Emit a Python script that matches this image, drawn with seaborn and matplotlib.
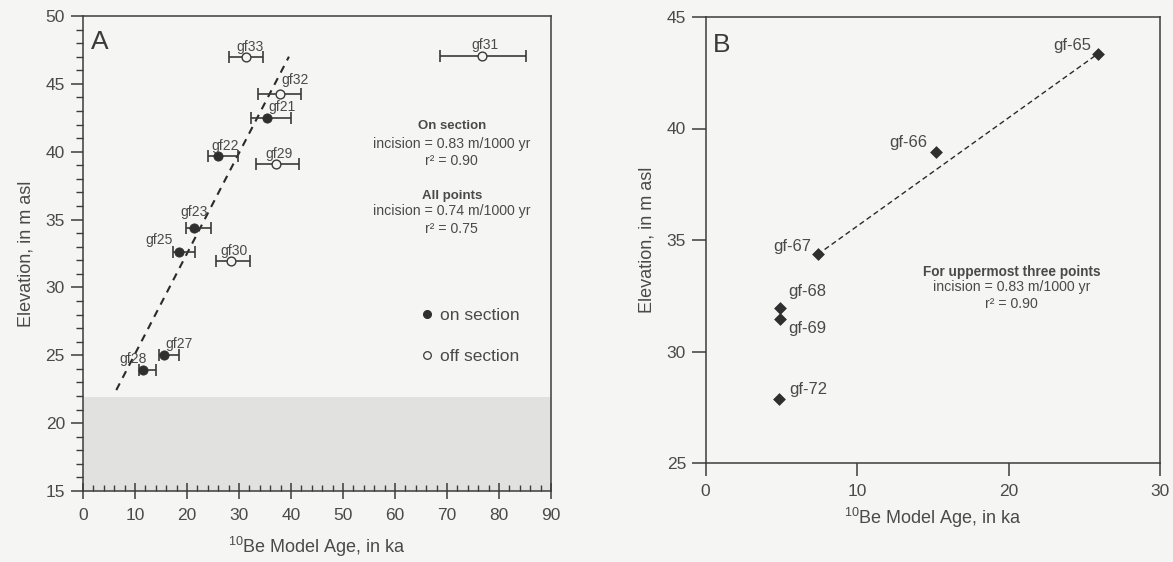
import numpy as np
import pandas as pd
import matplotlib
matplotlib.use("Agg")
import matplotlib.pyplot as plt
from matplotlib.lines import Line2D
from matplotlib.ticker import MultipleLocator
import seaborn as sns

# ---------------- Panel A: terrace gravel samples ----------------
on_ids = ["gf21", "gf22", "gf23", "gf25", "gf27", "gf28"]
on_age = [35.4, 25.9, 21.3, 18.5, 15.6, 11.6]
on_elev = [42.5, 39.7, 34.4, 32.6, 25.0, 23.9]
on_err_lo = [3.1, 1.9, 1.4, 1.2, 1.0, 0.9]
on_err_hi = [4.6, 4.0, 3.3, 3.1, 2.9, 2.4]

off_ids = ["gf33", "gf32", "gf29", "gf30", "gf31"]
off_age = [31.4, 37.8, 37.2, 28.5, 76.7]
off_elev = [47.0, 44.25, 39.1, 31.95, 47.05]
off_err_lo = [3.3, 4.2, 4.0, 3.0, 8.0]
off_err_hi = [3.2, 4.2, 4.4, 3.7, 8.5]

# incision trend line (m per ka) and its x extent
trend_a_slope = 0.74
trend_a_intercept = 17.7
trend_a_span = [6.4, 39.6]

# top of the modern floodplain band
floodplain_top = 21.9

# ---------------- Panel B: second terrace flight ----------------
b_ids = ["gf-65", "gf-66", "gf-67", "gf-68", "gf-69", "gf-72"]
b_age = [25.9, 15.2, 7.4, 4.9, 4.9, 4.85]
b_elev = [43.35, 38.95, 34.35, 31.95, 31.45, 27.85]
b_trend_ids = ["gf-67", "gf-65"]

# label offsets (pixels right, pixels down) from each point
label_off = {
    "gf21": (14.6, -11), "gf22": (7.4, -10), "gf23": (0, -15.7),
    "gf25": (-20, -12.3), "gf27": (15, -11), "gf28": (-10, -11),
    "gf33": (3.3, -9.4), "gf32": (15.3, -14), "gf29": (2.3, -10.3),
    "gf30": (3, -10.3), "gf31": (3.3, -11),
    "gf-65": (-25.3, -8.6), "gf-66": (-28, -9.7), "gf-67": (-25.4, -7.7),
    "gf-68": (27.7, -17), "gf-69": (27.7, 9), "gf-72": (29.3, -9.7),
}

sns.set_theme(style="ticks")
BG = "#f5f5f3"
INK = "#2f2f2f"
TXT = "#4a4a4a"
plt.rcParams.update({
    "font.family": ["Liberation Sans", "DejaVu Sans"],
    "mathtext.default": "regular",
    "axes.edgecolor": "#3c3c3c",
    "axes.linewidth": 1.1,
    "xtick.color": "#3c3c3c",
    "ytick.color": "#3c3c3c",
    "xtick.labelcolor": TXT,
    "ytick.labelcolor": TXT,
    "axes.labelcolor": TXT,
    "text.color": TXT,
})

fig = plt.figure(figsize=(11.73, 5.62), dpi=100, facecolor=BG)
W, H = 1173, 562
axA = fig.add_axes([83 / W, (H - 491) / H, 468 / W, 475 / H], facecolor=BG)
axB = fig.add_axes([705.5 / W, (H - 463) / H, 454.5 / W, 446 / H], facecolor=BG)

on_df = pd.DataFrame({"id": on_ids, "age": on_age, "elev": on_elev,
                      "lo": on_err_lo, "hi": on_err_hi})
off_df = pd.DataFrame({"id": off_ids, "age": off_age, "elev": off_elev,
                       "lo": off_err_lo, "hi": off_err_hi})
b_df = pd.DataFrame({"id": b_ids, "age": b_age, "elev": b_elev})

# ---- Panel A ----
axA.set_xlim(0, 90)
axA.set_ylim(15, 50)
axA.axhspan(15, floodplain_top, color="#e1e1e0", lw=0, zorder=0)

span = np.array(trend_a_span)
trend_df = pd.DataFrame({"age": span, "elev": trend_a_intercept + trend_a_slope * span})
sns.lineplot(data=trend_df, x="age", y="elev", ax=axA, color="#2a2a2a",
             linewidth=1.5, linestyle=(0, (3.6, 3.0)), zorder=2)

for df in (on_df, off_df):
    axA.errorbar(df["age"], df["elev"], xerr=[df["lo"], df["hi"]], fmt="none",
                 ecolor="#3a3a3a", elinewidth=1.2, capsize=4.6, capthick=1.2, zorder=3)

sns.scatterplot(data=on_df, x="age", y="elev", ax=axA, marker="o", s=44,
                color=INK, edgecolor=INK, linewidth=0.6, zorder=4)
sns.scatterplot(data=off_df, x="age", y="elev", ax=axA, marker="o", s=40,
                facecolor=BG, edgecolor="#3a3a3a", linewidth=1.0, zorder=4)

for df in (on_df, off_df):
    for _, r in df.iterrows():
        dx, dy = label_off[r["id"]]
        axA.annotate(r["id"], (r["age"], r["elev"]), xytext=(dx * 0.72, -dy * 0.72),
                     textcoords="offset points", ha="center", va="center",
                     fontsize=10, color=TXT, zorder=5)

axA.xaxis.set_major_locator(MultipleLocator(10))
axA.xaxis.set_minor_locator(MultipleLocator(2))
axA.yaxis.set_major_locator(MultipleLocator(5))
axA.yaxis.set_minor_locator(MultipleLocator(1))
axA.tick_params(axis="x", which="major", direction="inout", length=12, width=1.1,
                pad=6, labelsize=12.5)
axA.tick_params(axis="x", which="minor", direction="in", length=4.5, width=1.0)
axA.tick_params(axis="y", which="major", direction="out", length=9, width=1.1,
                pad=4, labelsize=12.5)
axA.tick_params(axis="y", which="minor", direction="out", length=5, width=1.0)
axA.set_xlabel(r"$^{10}$Be Model Age, in ka", fontsize=13, labelpad=9)
axA.set_ylabel("Elevation, in m asl", fontsize=13, labelpad=8)

axA.text(0.018, 0.97, "A", transform=axA.transAxes, fontsize=19,
         ha="left", va="top", color="#3a3a3a")

notes_a = [
    ("On section", 0.768, "bold", 9.5),
    ("incision = 0.83 m/1000 yr", 0.730, "normal", 10.2),
    ("r² = 0.90", 0.694, "normal", 10.2),
    ("All points", 0.622, "bold", 9.5),
    ("incision = 0.74 m/1000 yr", 0.589, "normal", 10.2),
    ("r² = 0.75", 0.551, "normal", 10.2),
]
for txt, yy, wt, fs in notes_a:
    axA.text(0.788, yy, txt, transform=axA.transAxes, ha="center", va="center",
             fontsize=fs, fontweight=wt, color=TXT)

handles = [
    Line2D([], [], marker="o", linestyle="none", markersize=5.5,
           markerfacecolor=INK, markeredgecolor=INK),
    Line2D([], [], marker="o", linestyle="none", markersize=5.5,
           markerfacecolor=BG, markeredgecolor="#3a3a3a", markeredgewidth=0.9),
]
axA.legend(handles, ["on section", "off section"], loc="upper left",
           bbox_to_anchor=(0.687, 0.418), frameon=False, fontsize=12.5,
           handlelength=0.8, handletextpad=0.35, labelspacing=1.49,
           borderpad=0.4, labelcolor=TXT)

# ---- Panel B ----
axB.set_xlim(0, 30)
axB.set_ylim(25, 45)
b_trend = b_df.set_index("id").loc[b_trend_ids].reset_index()
sns.lineplot(data=b_trend, x="age", y="elev", ax=axB, color="#2a2a2a",
             linewidth=1.0, linestyle=(0, (3.8, 2.4)), sort=False, zorder=2)
sns.scatterplot(data=b_df, x="age", y="elev", ax=axB, marker="D", s=36,
                color=INK, edgecolor=INK, linewidth=0.5, zorder=4)
for _, r in b_df.iterrows():
    dx, dy = label_off[r["id"]]
    axB.annotate(r["id"], (r["age"], r["elev"]), xytext=(dx * 0.72, -dy * 0.72),
                 textcoords="offset points", ha="center", va="center",
                 fontsize=12, color=TXT, zorder=5)

axB.xaxis.set_major_locator(MultipleLocator(10))
axB.yaxis.set_major_locator(MultipleLocator(5))
axB.tick_params(axis="x", direction="out", length=9, width=1.1, pad=6, labelsize=12.5)
axB.tick_params(axis="y", direction="out", length=10, width=1.1, pad=4, labelsize=12.5)
axB.set_xlabel(r"$^{10}$Be Model Age, in ka", fontsize=13, labelpad=5)
axB.set_ylabel("Elevation, in m asl", fontsize=13, labelpad=8)

axB.text(0.016, 0.965, "B", transform=axB.transAxes, fontsize=19,
         ha="left", va="top", color="#3a3a3a")
notes_b = [
    ("For uppermost three points", 0.429, "bold", 9.8),
    ("incision = 0.83 m/1000 yr", 0.395, "normal", 10.2),
    ("r² = 0.90", 0.3565, "normal", 10.2),
]
for txt, yy, wt, fs in notes_b:
    axB.text(0.674, yy, txt, transform=axB.transAxes, ha="center", va="center",
             fontsize=fs, fontweight=wt, color=TXT)

for ax in (axA, axB):
    for s in ax.spines.values():
        s.set_visible(True)

fig.savefig("out.png", dpi=100, facecolor=BG)
